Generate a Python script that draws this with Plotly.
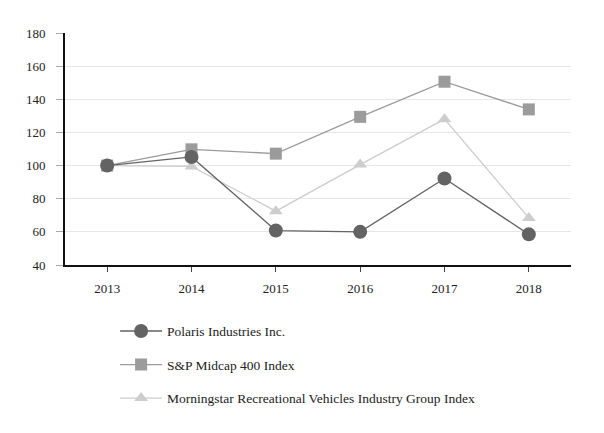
import plotly.graph_objects as go

years = [2013, 2014, 2015, 2016, 2017, 2018]
polaris = [100, 105.2, 60.8, 60.0, 92.2, 58.5]
sp400 = [100, 109.8, 107.2, 129.4, 150.6, 133.9]
morningstar = [100, 99.5, 72.5, 100.6, 128.0, 68.4]

series = [
    ("Polaris Industries Inc.", polaris, "#636363", "circle", 14, 1),
    ("S&P Midcap 400 Index", sp400, "#9b9b9b", "square", 12, 2),
    ("Morningstar Recreational Vehicles Industry Group Index", morningstar, "#cdcdcd", "triangle-up", 12, 3),
]

fig = go.Figure()
for name, vals, color, sym, msize, rank in reversed(series):
    fig.add_trace(go.Scatter(
        x=years, y=vals, name=name, mode="lines+markers",
        line=dict(color=color, width=1.3),
        marker=dict(symbol=sym, size=msize, color=color),
        legendgroup=name, legendrank=rank,
    ))

font = dict(family="Liberation Serif", size=13, color="#222222")
fig.update_layout(
    width=588, height=417,
    margin=dict(l=57, r=25, t=25, b=160, autoexpand=False),
    paper_bgcolor="white", plot_bgcolor="white",
    font=font,
    showlegend=True,
    legend=dict(x=0.099, y=0.262, xanchor="left", yanchor="top", yref="container",
                orientation="v", tracegroupgap=13, font=dict(size=13.5),
                itemwidth=42, bgcolor="rgba(0,0,0,0)"),
    xaxis=dict(range=[2012.5, 2018.5], tickvals=years, ticktext=[str(y) for y in years],
               showgrid=False, showline=True, linecolor="#111111", linewidth=1.5,
               ticks="outside", ticklen=5, tickcolor="#444444", zeroline=False,
               ticklabelstandoff=6),
    yaxis=dict(range=[40, 180], dtick=20, showgrid=True, gridcolor="#e6e6e6",
               showline=True, linecolor="#111111", linewidth=2,
               ticks="outside", ticklen=7, tickcolor="#aaaaaa", zeroline=False,
               ticklabelstandoff=8),
)
fig.write_html("out.html")
